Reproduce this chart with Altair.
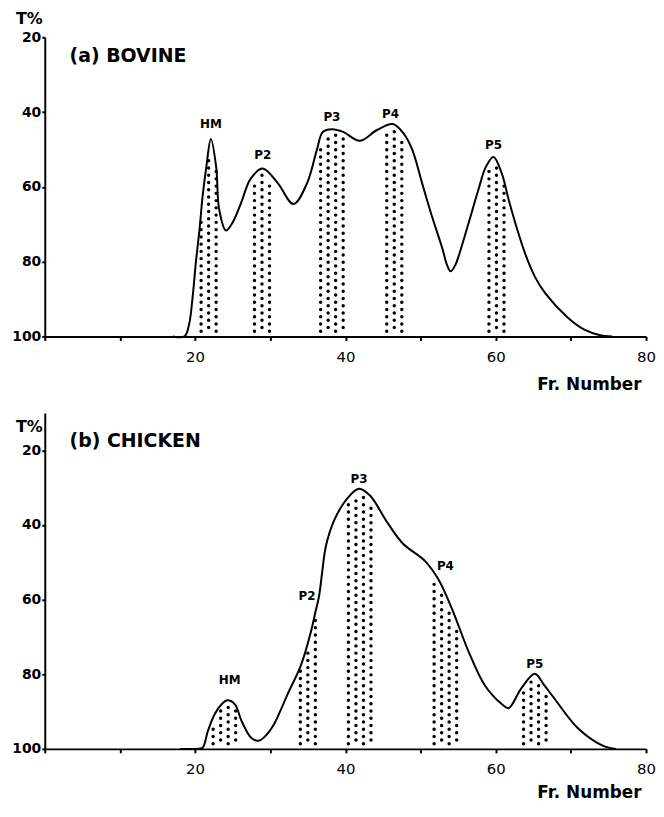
import altair as alt
import pandas as pd
import numpy as np

# ---------------- data ----------------
# (a) Bovine elution profile (Fr. Number, T%)
a_x = [17.0, 18.6, 19.2, 19.7, 20.1, 20.6, 21.0, 21.5, 22.1, 22.8, 23.2, 24.1, 25.0, 26.1,
       27.4, 29.0, 31.0, 33.1, 34.9, 36.2, 37.0, 38.2, 39.7, 41.9, 44.2, 46.3, 47.8, 48.9,
       50.2, 51.5, 52.9, 53.5, 54.0, 54.6, 55.1, 56.4, 57.7, 58.7, 59.7, 60.8, 61.7, 62.8,
       63.9, 65.2, 66.6, 69.6, 71.8, 73.9, 75.5]
a_y = [100.0, 100.0, 96.8, 88.9, 80.2, 71.2, 62.5, 54.6, 47.2, 54.6, 66.0, 71.7, 69.5, 64.4,
       57.8, 55.1, 59.0, 64.6, 59.0, 50.1, 45.3, 44.6, 45.3, 47.7, 44.8, 43.2, 45.9, 50.1,
       59.0, 67.8, 76.5, 80.8, 82.6, 81.0, 78.3, 69.6, 60.7, 54.6, 52.0, 56.4, 63.3, 71.0,
       77.8, 84.0, 88.5, 95.0, 98.2, 99.7, 100.0]

# (b) Chicken elution profile
b_x = [18.0, 20.2, 21.0, 21.7, 22.6, 23.5, 24.3, 25.3, 26.2, 27.5, 28.5, 29.6, 30.5, 32.3,
       34.1, 35.4, 36.0, 36.5, 36.9, 37.4, 38.5, 40.2, 41.8, 43.3, 45.4, 47.6, 50.6, 52.4,
       54.2, 56.4, 58.5, 60.8, 61.7, 63.4, 65.2, 66.4, 67.8, 70.9, 74.3, 76.0]
b_y = [100.0, 100.0, 99.7, 95.2, 90.7, 88.1, 87.0, 88.1, 92.6, 97.1, 97.8, 96.0, 93.4, 85.4,
       77.5, 68.7, 63.4, 59.0, 52.8, 45.7, 38.8, 33.0, 30.3, 32.2, 38.8, 44.9, 49.7, 54.7,
       62.6, 74.0, 82.8, 88.0, 89.1, 83.8, 79.9, 82.8, 86.5, 94.4, 99.2, 100.0]

peak_names = ["HM", "P2", "P3", "P4", "P5"]

# collected (shaded) fraction ranges
a_band_lo = [20.8, 27.9, 36.7, 45.5, 59.1]
a_band_hi = [22.8, 29.9, 39.7, 47.5, 61.1]
b_band_lo = [22.4, 34.0, 40.4, 51.8, 63.7]
b_band_hi = [25.4, 36.0, 43.4, 54.8, 66.7]

# peak label positions
a_lab_x = [22.1, 29.0, 38.2, 46.0, 59.7]
a_lab_y = [43.2, 51.4, 41.4, 40.6, 48.8]
b_lab_x = [24.6, 34.9, 41.8, 53.3, 65.2]
b_lab_y = [81.5, 59.0, 27.7, 51.0, 77.2]

panel_titles = ["(a) BOVINE", "(b) CHICKEN"]
title_x = [3.3, 3.3]
title_y = [24.9, 17.5]

x_ticks = [0, 10, 20, 30, 40, 50, 60, 70, 80]
y_ticks = [20, 40, 60, 80, 100]

FONT = "DejaVu Sans"
W = 605


def dots_for(cx, cy, lo_list, hi_list):
    """Stipple pattern filling each collected range under the curve."""
    rows = []
    for lo, hi in zip(lo_list, hi_list):
        k = 0
        x = lo
        while x <= hi + 0.05:
            top = float(np.interp(x, cx, cy))
            y = 98.6 - (0.97 if k % 2 else 0.0)
            while y > top + 1.1:
                rows.append({"x": x, "y": y})
                y -= 1.94
            x += 1.0
            k += 1
    return pd.DataFrame(rows)


def panel(cx, cy, lo, hi, lx, ly, title, tx, ty, ymin, height, t_title_y, x_title_y):
    curve = pd.DataFrame({"x": cx, "y": cy})
    dots = dots_for(cx, cy, lo, hi)
    labs = pd.DataFrame({"x": lx, "y": ly, "t": peak_names})
    ttl = pd.DataFrame({"x": [tx], "y": [ty], "t": [title]})

    xs = alt.Scale(domain=[0, 80], nice=False, zero=False)
    ys = alt.Scale(domain=[ymin, 100], reverse=True, nice=False, zero=False)

    xaxis = alt.Axis(values=x_ticks, labelExpr="datum.value % 20 == 0 && datum.value > 0 ? datum.label : ''",
                     title="Fr. Number", titleFont=FONT, titleFontSize=17, titleFontWeight="bold",
                     titleAnchor="end", titleAlign="right", titleX=W - 5, titleY=x_title_y,
                     titleBaseline="middle",
                     labelFont=FONT, labelFontSize=15, labelFontWeight="normal", labelColor="black",
                     tickSize=4, tickWidth=2, tickColor="black", labelPadding=9,
                     domainWidth=2, domainColor="black", grid=False, labelFlush=False)
    yaxis = alt.Axis(values=y_ticks, title="T%", titleAngle=0, titleFont=FONT, titleFontSize=16,
                     titleFontWeight="bold", titleX=-16, titleY=t_title_y, titleAlign="center",
                     titleBaseline="middle", labelFont=FONT, labelFontSize=14, labelFontWeight="bold",
                     labelColor="black", tickSize=3, tickWidth=2, tickColor="black", labelPadding=1,
                     domainWidth=2, domainColor="black", grid=False)

    line = alt.Chart(curve).mark_line(color="black", strokeWidth=2, interpolate="catmull-rom").encode(
        x=alt.X("x:Q", scale=xs, axis=xaxis),
        y=alt.Y("y:Q", scale=ys, axis=yaxis),
    )
    pts = alt.Chart(dots).mark_circle(color="black", size=12, opacity=1).encode(
        x=alt.X("x:Q", scale=xs), y=alt.Y("y:Q", scale=ys))
    lab = alt.Chart(labs).mark_text(font=FONT, fontSize=12, fontWeight="bold", color="black",
                                    align="center", baseline="middle").encode(
        x=alt.X("x:Q", scale=xs), y=alt.Y("y:Q", scale=ys), text="t:N")
    tt = alt.Chart(ttl).mark_text(font=FONT, fontSize=19, fontWeight="bold", color="black",
                                  align="left", baseline="middle").encode(
        x=alt.X("x:Q", scale=xs), y=alt.Y("y:Q", scale=ys), text="t:N")
    return alt.layer(pts, line, lab, tt).properties(width=W, height=height)


pa = panel(a_x, a_y, a_band_lo, a_band_hi, a_lab_x, a_lab_y, panel_titles[0],
           title_x[0], title_y[0], 20, 301, -19, 48)
pb = panel(b_x, b_y, b_band_lo, b_band_hi, b_lab_x, b_lab_y, panel_titles[1],
           title_x[1], title_y[1], 10, 338, 14, 44)

chart = alt.vconcat(pa, pb, spacing=77, bounds="flush").properties(
    padding={"left": 3, "top": 0, "right": 0, "bottom": 0}
).configure_view(stroke=None)

chart.save("out.html", embed_options={"renderer": "svg", "actions": False})
